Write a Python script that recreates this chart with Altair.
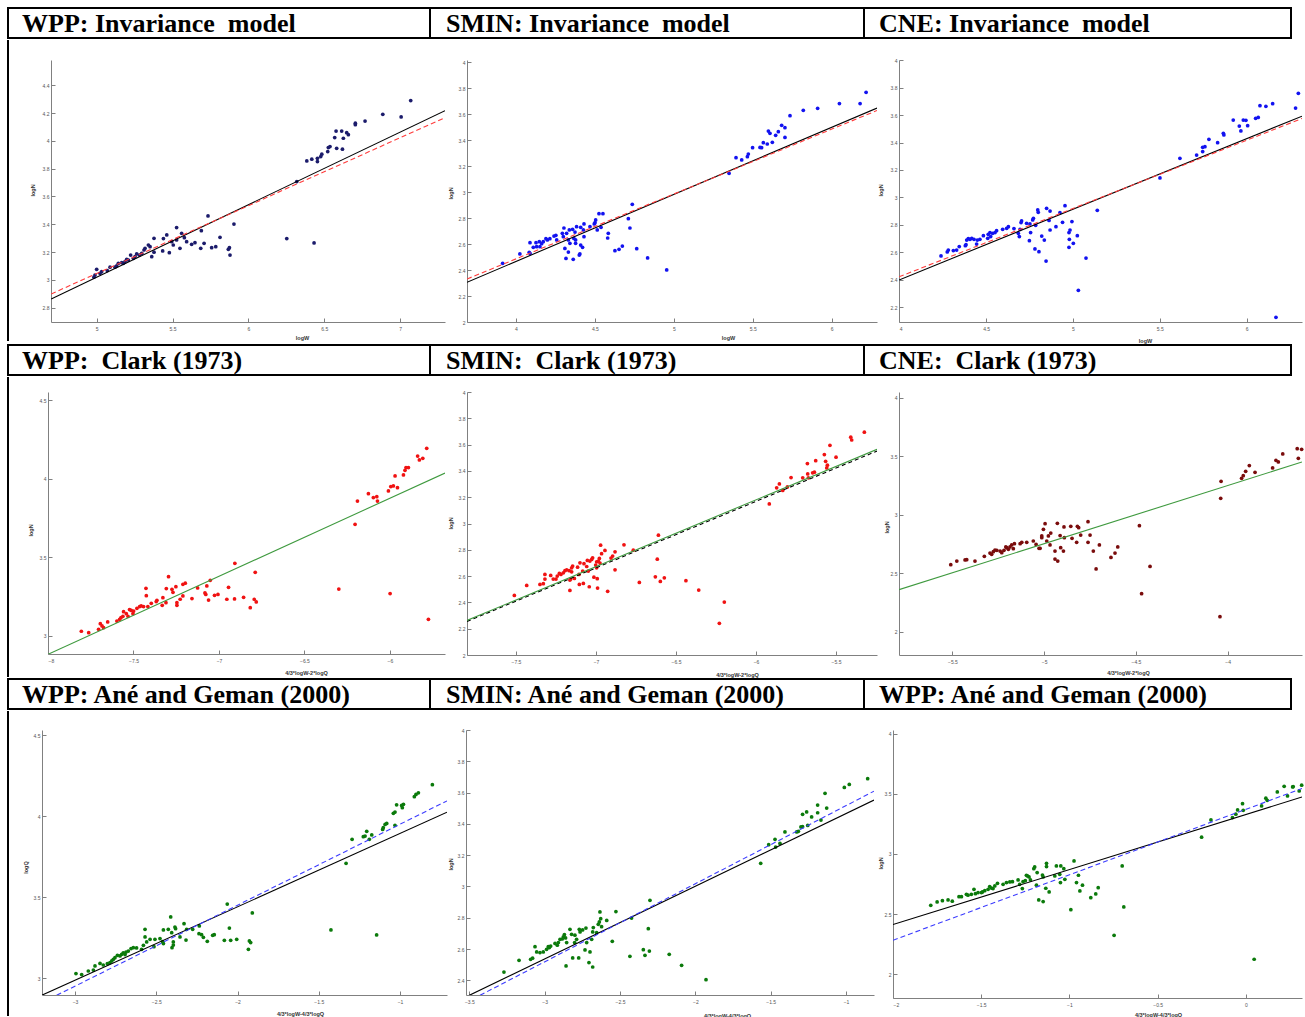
import altair as alt
import pandas as pd

# ---------------- titles ----------------
row1_titles = ["WPP: Invariance\u00a0 model", "SMIN: Invariance\u00a0 model", "CNE: Invariance\u00a0 model"]
row2_titles = ["WPP:\u00a0 Clark (1973)", "SMIN:\u00a0 Clark (1973)", "CNE:\u00a0 Clark (1973)"]
row3_titles = ["WPP: Ané and Geman (2000)", "SMIN: Ané and Geman (2000)", "WPP: Ané and Geman (2000)"]

# ---------------- scatter data (x, y) ----------------
wpp_inv = [(7.07,4.29),(7.007,4.172),(6.886,4.191),(6.769,4.143),(6.705,4.127),(6.705,4.117),(6.648,4.059),(6.659,4.045),(6.626,4.019),(6.615,4.071),(6.578,4.071),(6.569,4.024),(6.582,3.947),(6.620,3.940),(6.527,3.952),(6.538,3.959),(6.523,3.923),(6.484,3.904),(6.477,3.887),(6.455,3.875),(6.455,3.851),(6.418,3.868),(6.385,3.856),(6.319,3.707),(6.253,3.297),(6.433,3.266),
(5.905,3.402),(5.879,3.179),(5.868,3.220),(5.875,3.232),(5.813,3.306),(5.785,3.239),(5.758,3.232),(5.734,3.460),(5.708,3.263),(5.686,3.227),(5.690,3.354),(5.648,3.268),(5.626,3.256),(5.593,3.275),(5.578,3.304),(5.560,3.335),(5.527,3.376),(5.527,3.287),(5.549,3.227),(5.505,3.251),(5.495,3.275),(5.479,3.196),(5.462,3.323),(5.440,3.297),(5.435,3.208),(5.378,3.299),(5.378,3.199),(5.363,3.167),(5.352,3.239),(5.341,3.251),(5.319,3.227),(5.312,3.215),(5.297,3.191),(5.281,3.179),(5.264,3.187),(5.253,3.167),(5.242,3.155),(5.224,3.179),(5.209,3.143),(5.198,3.148),(5.187,3.131),(5.176,3.119),(5.165,3.124),(5.143,3.119),(5.132,3.100),(5.121,3.091),(5.088,3.091),(5.070,3.067),(5.033,3.059),(5.022,3.047),(5.000,3.076),(4.989,3.035),(4.982,3.019)]

smin_inv = [(6.218,3.769),(6.180,3.682),(6.049,3.682),(5.911,3.646),(5.820,3.630),(5.736,3.589),(5.683,3.515),(5.704,3.497),(5.704,3.422),(5.662,3.466),(5.645,3.438),(5.624,3.384),(5.599,3.471),(5.609,3.453),(5.592,3.371),(5.567,3.381),(5.556,3.343),(5.546,3.345),(5.499,3.343),(5.472,3.294),(5.466,3.273),(5.430,3.248),(5.394,3.266),(5.350,3.145),
(4.737,2.906),(4.712,2.796),(4.722,2.724),(4.765,2.565),(4.834,2.493),(4.955,2.401),(4.674,2.585),(4.653,2.560),(4.627,2.549),(4.585,2.683),(4.581,2.647),(4.551,2.834),(4.526,2.834),(4.539,2.729),(4.515,2.709),(4.505,2.786),(4.501,2.765),(4.496,2.755),(4.469,2.734),(4.431,2.755),(4.427,2.709),(4.431,2.657),(4.422,2.575),(4.410,2.593),(4.405,2.524),(4.401,2.516),(4.410,2.729),(4.384,2.734),(4.374,2.693),(4.378,2.632),(4.378,2.606),(4.367,2.644),(4.342,2.606),(4.359,2.714),(4.332,2.632),(4.332,2.539),(4.321,2.683),(4.304,2.724),(4.300,2.657),(4.310,2.567),(4.317,2.490),(4.363,2.483),(4.338,2.709),(4.294,2.683),(4.258,2.632),(4.253,2.668),(4.241,2.662),(4.215,2.642),(4.199,2.632),(4.190,2.642),(4.173,2.619),(4.163,2.603),(4.148,2.619),(4.131,2.580),(4.127,2.611),(4.110,2.575),(4.089,2.611),(4.084,2.537),(4.089,2.529),(4.025,2.524),(3.916,2.452),(4.152,2.580)]

cne_inv = [(6.298,3.758),(6.282,3.651),(6.150,3.683),(6.111,3.664),(6.077,3.668),(6.067,3.583),(6.052,3.576),(6.006,3.523),(5.996,3.562),(5.981,3.564),(5.958,3.520),(5.967,3.484),(5.923,3.564),(5.869,3.455),(5.866,3.467),(5.833,3.399),(5.783,3.423),(5.760,3.370),(5.747,3.365),(5.747,3.334),(5.712,3.309),(5.616,3.285),(5.501,3.142),(6.169,2.127),
(5.140,2.906),(5.075,2.559),(5.031,2.324),(5.025,2.722),(5.002,2.666),(4.994,2.824),(4.983,2.763),(4.977,2.744),(4.979,2.695),(4.977,2.637),(4.954,2.940),(4.940,2.819),(4.925,2.889),(4.902,2.787),(4.868,2.901),(4.848,2.921),(4.862,2.833),(4.868,2.763),(4.845,2.537),(4.835,2.690),(4.820,2.719),(4.804,2.605),(4.800,2.892),(4.797,2.909),(4.781,2.625),(4.772,2.848),(4.768,2.836),(4.785,2.797),(4.756,2.744),(4.749,2.685),(4.752,2.807),(4.733,2.812),(4.704,2.829),(4.701,2.817),(4.695,2.768),(4.691,2.715),(4.685,2.739),(4.660,2.773),(4.628,2.787),(4.618,2.775),(4.595,2.768),(4.560,2.758),(4.551,2.744),(4.537,2.739),(4.522,2.744),(4.512,2.732),(4.526,2.715),(4.509,2.702),(4.484,2.722),(4.464,2.695),(4.449,2.690),(4.445,2.661),(4.430,2.695),(4.417,2.702),(4.407,2.695),(4.397,2.700),(4.388,2.690),(4.384,2.656),(4.380,2.649),(4.345,2.642),(4.330,2.617),(4.311,2.613),(4.282,2.617),(4.276,2.603),(4.240,2.574)]

wpp_clark = [(-5.785,4.194),(-5.808,4.130),(-5.828,4.120),(-5.838,4.145),(-5.892,4.071),(-5.906,4.071),(-5.912,4.054),(-5.921,4.024),(-5.970,4.018),(-5.956,3.943),(-5.980,3.954),(-5.995,3.950),(-6.009,3.922),(-6.077,3.886),(-6.073,3.858),(-6.097,3.880),(-6.126,3.905),(-6.190,3.858),(-6.204,3.710),(-5.775,3.104),(-5.999,3.268),(-6.299,3.297),
(-6.788,3.404),(-6.782,3.215),(-6.794,3.232),(-6.817,3.178),(-6.856,3.244),(-6.909,3.234),(-6.907,3.461),(-6.944,3.308),(-6.954,3.232),(-7.006,3.263),(-7.026,3.257),(-7.051,3.353),(-7.061,3.227),(-7.071,3.317),(-7.077,3.263),(-7.082,3.272),(-7.125,3.304),(-7.158,3.236),(-7.197,3.334),(-7.211,3.327),(-7.211,3.253),(-7.227,3.232),(-7.246,3.210),(-7.246,3.193),(-7.252,3.312),(-7.269,3.276),(-7.275,3.295),(-7.295,3.376),(-7.308,3.300),(-7.310,3.210),(-7.328,3.242),(-7.332,3.193),(-7.363,3.225),(-7.367,3.217),(-7.396,3.206),(-7.416,3.185),(-7.427,3.302),(-7.425,3.255),(-7.441,3.185),(-7.455,3.189),(-7.464,3.185),(-7.480,3.174),(-7.499,3.157),(-7.503,3.140),(-7.513,3.161),(-7.523,3.166),(-7.532,3.123),(-7.542,3.140),(-7.558,3.153),(-7.562,3.123),(-7.573,3.115),(-7.581,3.104),(-7.597,3.093),(-7.651,3.087),(-7.675,3.051),(-7.694,3.076),(-7.704,3.040),(-7.684,3.062),(-7.762,3.019),(-7.805,3.028)]

smin_clark = [(-5.323,3.694),(-5.408,3.656),(-5.402,3.635),(-5.538,3.595),(-5.500,3.504),(-5.573,3.524),(-5.565,3.473),(-5.554,3.443),(-5.558,3.423),(-5.627,3.478),(-5.635,3.390),(-5.646,3.385),(-5.679,3.456),(-5.677,3.377),(-5.673,3.347),(-5.708,3.347),(-5.781,3.349),(-5.804,3.278),(-5.833,3.251),(-5.854,3.301),(-5.871,3.271),(-5.917,3.149),
(-6.610,2.911),(-6.617,2.729),(-6.629,2.595),(-6.598,2.559),(-6.573,2.587),(-6.438,2.565),(-6.358,2.494),(-6.198,2.403),(-6.229,2.241),(-6.729,2.552),(-6.767,2.797),(-6.825,2.838),(-6.881,2.785),(-6.896,2.752),(-6.881,2.648),(-6.906,2.737),(-6.927,2.484),(-6.944,2.795),(-6.965,2.770),(-6.971,2.835),(-6.979,2.734),(-6.985,2.714),(-6.975,2.699),(-6.996,2.709),(-7.002,2.684),(-6.996,2.663),(-6.992,2.580),(-6.990,2.509),(-7.013,2.592),(-7.021,2.739),(-7.027,2.727),(-7.038,2.714),(-7.048,2.638),(-7.054,2.719),(-7.058,2.673),(-7.042,2.519),(-7.075,2.694),(-7.083,2.638),(-7.100,2.701),(-7.106,2.613),(-7.104,2.537),(-7.115,2.668),(-7.135,2.582),(-7.146,2.676),(-7.152,2.663),(-7.158,2.577),(-7.163,2.570),(-7.163,2.491),(-7.167,2.641),(-7.183,2.648),(-7.194,2.641),(-7.204,2.625),(-7.219,2.613),(-7.229,2.620),(-7.242,2.600),(-7.250,2.577),(-7.267,2.577),(-7.283,2.605),(-7.319,2.613),(-7.319,2.577),(-7.329,2.542),(-7.350,2.537),(-7.433,2.529),(-7.510,2.453),(-7.152,2.633),(-7.079,2.544)]

cne_clark = [(-3.597,3.558),(-3.621,3.564),(-3.615,3.481),(-3.700,3.519),(-3.724,3.450),(-3.737,3.464),(-3.755,3.399),(-3.851,3.362),(-3.882,3.419),(-3.902,3.370),(-3.915,3.333),(-3.924,3.311),(-4.036,3.285),(-4.038,3.140),(-4.042,2.128),(-4.481,2.906),(-4.469,2.325),(-4.423,2.558),
(-4.599,2.724),(-4.614,2.672),(-4.636,2.635),(-4.699,2.741),(-4.717,2.536),(-4.732,2.689),(-4.750,2.826),(-4.761,2.940),(-4.761,2.764),(-4.801,2.826),(-4.812,2.889),(-4.819,2.900),(-4.823,2.764),(-4.855,2.900),(-4.848,2.798),(-4.892,2.895),(-4.890,2.803),(-4.895,2.689),(-4.913,2.821),(-4.910,2.718),(-4.928,2.926),(-4.926,2.604),(-4.941,2.621),(-4.941,2.689),(-4.964,2.843),(-4.968,2.741),(-4.977,2.818),(-4.986,2.775),(-4.995,2.923),(-5.004,2.875),(-5.013,2.803),(-5.013,2.818),(-5.022,2.712),(-5.028,2.712),(-5.044,2.746),(-5.059,2.775),(-5.095,2.764),(-5.122,2.764),(-5.131,2.752),(-5.162,2.752),(-5.168,2.709),(-5.177,2.741),(-5.186,2.724),(-5.195,2.704),(-5.204,2.718),(-5.219,2.695),(-5.231,2.675),(-5.240,2.689),(-5.258,2.695),(-5.277,2.684),(-5.286,2.661),(-5.295,2.672),(-5.326,2.644),(-5.377,2.604),(-5.422,2.615),(-5.431,2.613),(-5.476,2.604),(-5.509,2.573),(-5.268,2.698),(-5.209,2.724)]

wpp_ag = [(-0.801,4.194),(-0.887,4.144),(-0.902,4.134),(-0.912,4.120),(-0.979,4.073),(-0.990,4.066),(-1.021,4.070),(-0.986,4.052),(-1.031,4.025),(-1.041,4.017),(-1.031,3.943),(-1.082,3.955),(-1.092,3.949),(-1.103,3.929),(-1.107,3.918),(-1.174,3.884),(-1.189,3.857),(-1.205,3.906),(-1.215,3.877),(-1.226,3.873),(-1.295,3.857),(-1.332,3.709),(-1.425,3.298),(-1.144,3.267),
(-2.063,3.458),(-1.909,3.403),(-2.050,3.310),(-1.927,3.230),(-1.919,3.220),(-1.933,3.179),(-2.005,3.240),(-2.042,3.234),(-2.081,3.234),(-2.143,3.269),(-2.153,3.265),(-2.186,3.228),(-2.221,3.269),(-2.210,3.253),(-2.237,3.275),(-2.235,3.323),(-2.276,3.302),(-2.313,3.302),(-2.329,3.337),(-2.317,3.236),(-2.354,3.255),(-2.385,3.316),(-2.381,3.306),(-2.405,3.281),(-2.395,3.224),(-2.411,3.378),(-2.426,3.302),(-2.395,3.205),(-2.403,3.189),(-2.456,3.298),(-2.461,3.226),(-2.456,3.214),(-2.477,3.245),(-2.508,3.240),(-2.514,3.195),(-2.538,3.240),(-2.559,3.224),(-2.569,3.255),(-2.569,3.302),(-2.579,3.203),(-2.590,3.179),(-2.621,3.187),(-2.641,3.189),(-2.655,3.183),(-2.672,3.168),(-2.686,3.162),(-2.692,3.146),(-2.703,3.156),(-2.713,3.148),(-2.723,3.138),(-2.739,3.142),(-2.754,3.127),(-2.764,3.117),(-2.774,3.107),(-2.785,3.097),(-2.801,3.090),(-2.826,3.082),(-2.846,3.092),(-2.877,3.076),(-2.887,3.051),(-2.918,3.045),(-2.959,3.023),(-2.994,3.029)]

smin_ag = [(-0.856,3.689),(-0.978,3.652),(-1.011,3.633),(-1.139,3.595),(-1.128,3.501),(-1.188,3.520),(-1.188,3.471),(-1.166,3.424),(-1.228,3.444),(-1.261,3.476),(-1.288,3.461),(-1.254,3.390),(-1.288,3.382),(-1.299,3.380),(-1.316,3.352),(-1.327,3.348),(-1.405,3.348),(-1.438,3.275),(-1.471,3.301),(-1.467,3.252),(-1.513,3.267),(-1.566,3.148),
(-2.301,2.911),(-2.312,2.730),(-2.345,2.596),(-2.334,2.560),(-2.305,2.587),(-2.434,2.553),(-2.173,2.566),(-2.091,2.496),(-1.929,2.404),(-2.423,2.798),(-2.527,2.839),(-2.551,2.649),(-2.588,2.783),(-2.622,2.743),(-2.628,2.794),(-2.637,2.773),(-2.644,2.758),(-2.633,2.837),(-2.655,2.705),(-2.677,2.737),(-2.681,2.709),(-2.688,2.662),(-2.699,2.581),(-2.681,2.485),(-2.706,2.513),(-2.721,2.641),(-2.726,2.734),(-2.732,2.594),(-2.748,2.722),(-2.765,2.709),(-2.770,2.726),(-2.774,2.543),(-2.788,2.662),(-2.801,2.641),(-2.814,2.543),(-2.821,2.694),(-2.832,2.726),(-2.861,2.671),(-2.854,2.641),(-2.869,2.692),(-2.876,2.677),(-2.883,2.664),(-2.898,2.662),(-2.909,2.641),(-2.916,2.624),(-2.931,2.636),(-2.960,2.619),(-2.969,2.609),(-2.976,2.615),(-2.987,2.598),(-3.009,2.581),(-3.031,2.577),(-3.053,2.581),(-3.064,2.615),(-3.080,2.541),(-3.093,2.534),(-3.170,2.528),(-3.270,2.453),(-2.858,2.492),(-2.799,2.688)]

cne_ag = [(0.316,3.571),(0.302,3.524),(0.268,3.560),(0.265,3.557),(0.217,3.562),(0.236,3.482),(0.178,3.515),(0.121,3.446),(0.113,3.463),(0.089,3.399),(-0.019,3.418),(-0.015,3.363),(-0.047,3.366),(-0.057,3.330),(-0.076,3.302),(-0.198,3.283),(-0.251,3.139),(0.047,2.125),(-0.747,2.324),(-0.692,2.560),(-0.701,2.900),
(-0.837,2.720),(-0.851,2.668),(-0.879,2.637),(-0.926,2.740),(-0.941,2.693),(-0.949,2.823),(-0.960,2.762),(-0.974,2.942),(-0.992,2.537),(-1.026,2.789),(-1.032,2.878),(-1.049,2.900),(-1.051,2.762),(-1.055,2.831),(-1.074,2.900),(-1.083,2.817),(-1.115,2.684),(-1.130,2.922),(-1.130,2.895),(-1.134,2.715),(-1.149,2.604),(-1.153,2.825),(-1.149,2.809),(-1.174,2.618),(-1.183,2.845),(-1.187,2.740),(-1.197,2.892),(-1.202,2.878),(-1.221,2.784),(-1.229,2.809),(-1.238,2.817),(-1.244,2.823),(-1.250,2.778),(-1.263,2.770),(-1.267,2.712),(-1.282,2.748),(-1.291,2.784),(-1.323,2.770),(-1.338,2.767),(-1.357,2.762),(-1.376,2.748),(-1.408,2.756),(-1.423,2.734),(-1.433,2.712),(-1.442,2.717),(-1.452,2.729),(-1.461,2.706),(-1.480,2.695),(-1.493,2.684),(-1.518,2.679),(-1.533,2.670),(-1.541,2.706),(-1.556,2.665),(-1.575,2.657),(-1.584,2.665),(-1.612,2.645),(-1.626,2.645),(-1.664,2.607),(-1.688,2.618),(-1.720,2.612),(-1.750,2.601),(-1.786,2.573),(-1.499,2.679)]

# ---------------- fitted lines: (x endpoints, y endpoints) ----------------
wpp_inv_black = ([4.70, 7.296], [2.863, 4.217])
wpp_inv_red = ([4.70, 7.296], [2.899, 4.167])
smin_inv_black = ([3.69, 6.287], [2.306, 3.648])
smin_inv_red = ([3.69, 6.287], [2.331, 3.629])
cne_inv_black = ([3.998, 6.319], [2.399, 3.592])
cne_inv_red = ([3.998, 6.319], [2.422, 3.575])
wpp_clark_green = ([-8.0, -5.678], [2.881, 4.036])
smin_clark_green = ([-7.806, -5.244], [2.263, 3.564])
smin_clark_black = ([-7.806, -5.244], [2.255, 3.551])
cne_clark_green = ([-5.791, -3.595], [2.359, 3.450])
wpp_ag_black = ([-3.203, -0.711], [2.896, 4.024])
wpp_ag_blue = ([-3.113, -0.711], [2.895, 4.094])
smin_ag_black = ([-3.5, -0.814], [2.304, 3.552])
smin_ag_blue = ([-3.429, -0.814], [2.304, 3.609])
cne_ag_black = ([-2.0, 0.318], [2.413, 3.473])
cne_ag_blue = ([-2.0, 0.318], [2.283, 3.544])

# ---------------- tick values ----------------
xt_inv1 = [5, 5.5, 6, 6.5, 7]
yt_inv1 = [2.8, 3, 3.2, 3.4, 3.6, 3.8, 4, 4.2, 4.4]
xt_inv2 = [4, 4.5, 5, 5.5, 6]
yt_inv2 = [2, 2.2, 2.4, 2.6, 2.8, 3, 3.2, 3.4, 3.6, 3.8, 4]
yt_inv3 = [2.2, 2.4, 2.6, 2.8, 3, 3.2, 3.4, 3.6, 3.8, 4]
xt_cl1 = [-8, -7.5, -7, -6.5, -6]
yt_cl1 = [3, 3.5, 4, 4.5]
xt_cl2 = [-7.5, -7, -6.5, -6, -5.5]
yt_cl2 = [2, 2.2, 2.4, 2.6, 2.8, 3, 3.2, 3.4, 3.6, 3.8, 4]
xt_cl3 = [-5.5, -5, -4.5, -4]
yt_cl3 = [2, 2.5, 3, 3.5, 4]
xt_ag1 = [-3, -2.5, -2, -1.5, -1]
yt_ag1 = [3, 3.5, 4, 4.5]
xt_ag2 = [-3.5, -3, -2.5, -2, -1.5, -1]
yt_ag2 = [2.4, 2.6, 2.8, 3, 3.2, 3.4, 3.6, 3.8, 4]
xt_ag3 = [-2, -1.5, -1, -0.5, 0]
yt_ag3 = [2, 2.5, 3, 3.5, 4]

NAVY, BLUE, RED, DARKRED, GREEN = "#1b1b6b", "#1212f0", "#f01212", "#7a0c0c", "#0b7a0b"
LGREEN, DRED, DBLUE = "#3f9a3f", "#ff3b3b", "#3c3cff"


def header(title, w, xoff):
    df = pd.DataFrame({"t": [title]})
    return alt.Chart(df).mark_text(
        align="left", baseline="alphabetic", font="Liberation Serif",
        fontSize=26, fontWeight="bold", color="black"
    ).encode(x=alt.value(xoff), y=alt.value(24), text="t:N").properties(
        width=w, height=30,
        view=alt.ViewBackground(stroke="black", strokeWidth=2, fill="white"))


def border(w, h, y1, y2):
    df = pd.DataFrame({"a": [0]})
    return alt.Chart(df).mark_rule(color="black", strokeWidth=2).encode(
        x=alt.value(0), y=alt.value(y1), y2=alt.value(y2)).properties(width=w, height=h)


def panel(pts, color, lines, xdom, ydom, xticks, yticks, xtitle, ytitle, w, h, xtp, ytp):
    xsc = alt.Scale(domain=xdom, nice=False, zero=False)
    ysc = alt.Scale(domain=ydom, nice=False, zero=False)
    xax = alt.Axis(values=xticks, title=xtitle, format="~g", titleX=xtp[0], titleY=xtp[1],
                   titleAlign="center", titleBaseline="middle", labelPadding=8)
    yax = alt.Axis(values=yticks, title=ytitle, format="~g", titleX=ytp[0], titleY=ytp[1],
                   titleAlign="center", titleBaseline="middle", labelPadding=6)
    df = pd.DataFrame(pts, columns=["x", "y"])
    layers = [alt.Chart(df).mark_circle(size=14, color=color, opacity=1).encode(
        x=alt.X("x:Q", scale=xsc, axis=xax, title=xtitle),
        y=alt.Y("y:Q", scale=ysc, axis=yax, title=ytitle))]
    for (lx, ly), lcolor, dash in lines:
        mk = dict(color=lcolor, strokeWidth=1.1, clip=True)
        if dash:
            mk["strokeDash"] = dash
        layers.append(alt.Chart(pd.DataFrame({"x": lx, "y": ly})).mark_line(**mk).encode(
            x=alt.X("x:Q", scale=xsc, axis=xax, title=xtitle),
            y=alt.Y("y:Q", scale=ysc, axis=yax, title=ytitle)))
    return alt.layer(*layers).properties(width=w, height=h)


p1 = panel(wpp_inv, NAVY, [(wpp_inv_black, "black", None), (wpp_inv_red, DRED, [5, 3])],
           [4.699, 7.296], [2.697, 4.582], xt_inv1, yt_inv1, "logW", "logN", 394, 262, (251, 15), (-19, 130))
p2 = panel(smin_inv, BLUE, [(smin_inv_black, "black", None), (smin_inv_red, DRED, [5, 3])],
           [3.690, 6.287], [2.0, 4.018], xt_inv2, yt_inv2, "logW", "logN", 410, 262, (261, 15), (-17, 133))
p3 = panel(cne_inv, BLUE, [(cne_inv_black, "black", None), (cne_inv_red, DRED, [5, 3])],
           [3.998, 6.319], [2.093, 4.001], xt_inv2, yt_inv3, "logW", "logN", 403, 262, (246, 18), (-19, 130))

p4 = panel(wpp_clark, RED, [(wpp_clark_green, LGREEN, None)],
           [-8.0, -5.678], [2.883, 4.553], xt_cl1, yt_cl1, "4/3*logW-2*logQ", "logN", 397, 262, (258, 18), (-18, 138))
p5 = panel(smin_clark, RED, [(smin_clark_black, "black", [4, 3]), (smin_clark_green, LGREEN, None)],
           [-7.806, -5.244], [2.0, 4.0], xt_cl2, yt_cl2, "4/3*logW-2*logQ", "logN", 410, 263, (270, 19), (-17, 131))
p6 = panel(cne_clark, DARKRED, [(cne_clark_green, LGREEN, None)],
           [-5.791, -3.595], [1.801, 4.048], xt_cl3, yt_cl3, "4/3*logW-2*logQ", "logN", 403, 263, (229, 17), (-13, 135))

p7 = panel(wpp_ag, GREEN, [(wpp_ag_black, "black", None), (wpp_ag_blue, DBLUE, [5, 3])],
           [-3.203, -0.711], [2.897, 4.531], xt_ag1, yt_ag1, "4/3*logW-4/3*logQ", "logQ", 405, 265, (258, 18), (-17, 137))
p8 = panel(smin_ag, GREEN, [(smin_ag_black, "black", None), (smin_ag_blue, DBLUE, [5, 3])],
           [-3.522, -0.814], [2.306, 4.0], xt_ag2, yt_ag2, "4/3*logW-4/3*logQ", "logN", 408, 265, (261, 20), (-16, 134))
p9 = panel(cne_ag, GREEN, [(cne_ag_black, "black", None), (cne_ag_blue, DBLUE, [5, 3])],
           [-2.0, 0.318], [1.803, 4.030], xt_ag3, yt_ag3, "4/3*logW-4/3*logQ", "logN", 409, 268, (265, 16), (-13, 133))

hdr_widths = [422, 434, 427]
hdr_offsets = [14, 16, 15]


def header_row(titles):
    return alt.hconcat(*[header(t, w, o) for t, w, o in zip(titles, hdr_widths, hdr_offsets)],
                       spacing=0, bounds="flush")


row1 = header_row(row1_titles)
prow1 = alt.hconcat(border(21, 262, -20, 281), p1, p2, p3, spacing=22, bounds="flush")
row2 = header_row(row2_titles)
prow2 = alt.hconcat(border(18, 263, -15, 285), p4, p5, p6, spacing=22, bounds="flush")
row3 = header_row(row3_titles)
prow3 = alt.hconcat(border(15, 268, -19, 286), p7, p8, p9, spacing=19, bounds="flush")

chart = alt.vconcat(row1, prow1, row2, prow2, row3, prow3, spacing=0).properties(
    padding={"left": 7, "top": 7, "right": 0, "bottom": 0}, background="white"
).configure_view(stroke=None).configure_axis(
    domainColor="#808080", domainWidth=1, tickColor="#808080", tickSize={"expr": "-4"}, tickWidth=1,
    labelFontSize=5, labelColor="#555555", labelFont="Liberation Sans",
    titleFont="Liberation Sans", titleFontSize=5.5, titleFontWeight="bold", titleColor="#333333",
    grid=False
)

chart.save("out.html", embed_options={"renderer": "svg", "actions": False})
